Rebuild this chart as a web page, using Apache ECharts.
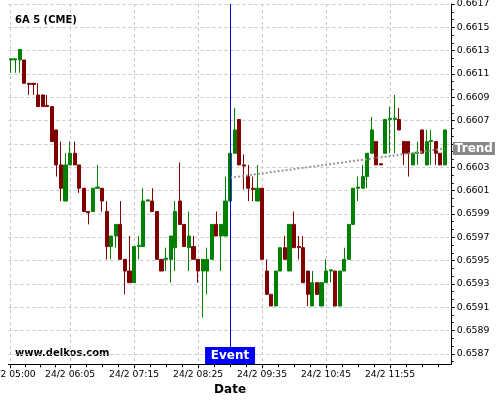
<!DOCTYPE html>
<html>
<head>
<meta charset="utf-8">
<script src="https://cdn.jsdelivr.net/npm/echarts@6/dist/echarts.min.js"></script>
<style>
  html, body { margin: 0; padding: 0; background: #fff; }
  #chart { width: 500px; height: 400px; }
</style>
</head>
<body>
<div id="chart"></div>
<script>
// 5 minute bars, 24/2 05:00 .. 12:55 (+ one empty slot at 13:00)
const categories = []
for (let i = 0; i <= 96; i++) {
  const m = 5 * 60 + 5 * i
  categories.push('24/2 ' + String(Math.floor(m / 60)).padStart(2, '0') + ':' + String(m % 60).padStart(2, '0'))
}

// [open, close, low, high]
const candles = [
  [0.66122, 0.66123, 0.66111, 0.66123],
  [0.66122, 0.66123, 0.66111, 0.66123],
  [0.66122, 0.66131, 0.66111, 0.66131],
  [0.66122, 0.66102, 0.66102, 0.66122],
  [0.66102, 0.66101, 0.66092, 0.66102],
  [0.66102, 0.66101, 0.66092, 0.66102],
  [0.66092, 0.66082, 0.66082, 0.66102],
  [0.66092, 0.66082, 0.66082, 0.66092],
  [0.66083, 0.66082, 0.66082, 0.66092],
  [0.66082, 0.66052, 0.66052, 0.66082],
  [0.66062, 0.66032, 0.66022, 0.66062],
  [0.66032, 0.66012, 0.66001, 0.66052],
  [0.66001, 0.66032, 0.66001, 0.66042],
  [0.66032, 0.66042, 0.66032, 0.66052],
  [0.66042, 0.66032, 0.66032, 0.66052],
  [0.66032, 0.66012, 0.66008, 0.66032],
  [0.66012, 0.65992, 0.65992, 0.66012],
  [0.65992, 0.65991, 0.65981, 0.65992],
  [0.65992, 0.66012, 0.65992, 0.66012],
  [0.66012, 0.66013, 0.66012, 0.66032],
  [0.66012, 0.66001, 0.65992, 0.66012],
  [0.65992, 0.65962, 0.65951, 0.66001],
  [0.65962, 0.65971, 0.65951, 0.65971],
  [0.65971, 0.65981, 0.65961, 0.65981],
  [0.65981, 0.65951, 0.65951, 0.66001],
  [0.65951, 0.65941, 0.65921, 0.65951],
  [0.65941, 0.65931, 0.65931, 0.65971],
  [0.65931, 0.65962, 0.65931, 0.65962],
  [0.65962, 0.65963, 0.65951, 0.65971],
  [0.65962, 0.66001, 0.65962, 0.66012],
  [0.66001, 0.66002, 0.66001, 0.66002],
  [0.66001, 0.65992, 0.65992, 0.66012],
  [0.65992, 0.65951, 0.65951, 0.65992],
  [0.65951, 0.65941, 0.65941, 0.65951],
  [0.65951, 0.65952, 0.65941, 0.65961],
  [0.65951, 0.65971, 0.65931, 0.65971],
  [0.65961, 0.65992, 0.65941, 0.66001],
  [0.66001, 0.65981, 0.65981, 0.66034],
  [0.65981, 0.65962, 0.65962, 0.65981],
  [0.65961, 0.65971, 0.65941, 0.65992],
  [0.65962, 0.65951, 0.65951, 0.65971],
  [0.65951, 0.65941, 0.65931, 0.65951],
  [0.65941, 0.65951, 0.65901, 0.65951],
  [0.65941, 0.65951, 0.65921, 0.65961],
  [0.65951, 0.65981, 0.65951, 0.65981],
  [0.65981, 0.65971, 0.65971, 0.65992],
  [0.65971, 0.65981, 0.65941, 0.65981],
  [0.65971, 0.66001, 0.65971, 0.66022],
  [0.66001, 0.66042, 0.66001, 0.66042],
  [0.66042, 0.66062, 0.66042, 0.66081],
  [0.66071, 0.66032, 0.66032, 0.66071],
  [0.66032, 0.66031, 0.66011, 0.66041],
  [0.66022, 0.66012, 0.66001, 0.66032],
  [0.66012, 0.66011, 0.66001, 0.66022],
  [0.66001, 0.66012, 0.66001, 0.66032],
  [0.66012, 0.65951, 0.65951, 0.66012],
  [0.65941, 0.65921, 0.65921, 0.65951],
  [0.65921, 0.65911, 0.65911, 0.65921],
  [0.65911, 0.65941, 0.65911, 0.65941],
  [0.65941, 0.65961, 0.65941, 0.65961],
  [0.65961, 0.65951, 0.65951, 0.65971],
  [0.65941, 0.65981, 0.65941, 0.65981],
  [0.65981, 0.65961, 0.65961, 0.65992],
  [0.65962, 0.65961, 0.65951, 0.65971],
  [0.65961, 0.65931, 0.65931, 0.65971],
  [0.65941, 0.65921, 0.65911, 0.65941],
  [0.65911, 0.65931, 0.65911, 0.65941],
  [0.65931, 0.65921, 0.65921, 0.65931],
  [0.65911, 0.65931, 0.65911, 0.65931],
  [0.65931, 0.65941, 0.65931, 0.65951],
  [0.65941, 0.65942, 0.65931, 0.65942],
  [0.65941, 0.65911, 0.65911, 0.65941],
  [0.65911, 0.65941, 0.65911, 0.65941],
  [0.65941, 0.65951, 0.65941, 0.65961],
  [0.65951, 0.65981, 0.65951, 0.65981],
  [0.65981, 0.66012, 0.65981, 0.66012],
  [0.66012, 0.66013, 0.66001, 0.66022],
  [0.66012, 0.66022, 0.66012, 0.66032],
  [0.66022, 0.66042, 0.66012, 0.66042],
  [0.66042, 0.66062, 0.66042, 0.66073],
  [0.66052, 0.66032, 0.66032, 0.66052],
  [0.66033, 0.66032, 0.66032, 0.66033],
  [0.66042, 0.66071, 0.66042, 0.66071],
  [0.66071, 0.66072, 0.66042, 0.66082],
  [0.66071, 0.66072, 0.66042, 0.66092],
  [0.66071, 0.66062, 0.66062, 0.66081],
  [0.66052, 0.66042, 0.66032, 0.66052],
  [0.66052, 0.66042, 0.66022, 0.66052],
  [0.66032, 0.66042, 0.66032, 0.66042],
  [0.66042, 0.66043, 0.66032, 0.66052],
  [0.66062, 0.66042, 0.66042, 0.66062],
  [0.66032, 0.66052, 0.66032, 0.66062],
  [0.66052, 0.66053, 0.66032, 0.66062],
  [0.66052, 0.66042, 0.66032, 0.66052],
  [0.66042, 0.66032, 0.66032, 0.66042],
  [0.66032, 0.66062, 0.66032, 0.66062]
]

// trend line: [bar index, price]
const trendPoints = [[48, 0.66021], [95, 0.66046]]
const eventIdx = 48
const eventLabelPrice = 0.658685

// axis ticks
const xLabelIdx = [0, 13, 27, 41, 55, 69, 83]
const yTicks = [0.6587, 0.6589, 0.6591, 0.6593, 0.6595, 0.6597, 0.6599,
  0.6601, 0.6603, 0.6605, 0.6607, 0.6609, 0.6611, 0.6613, 0.6615, 0.6617]
const yLabels = yTicks.filter(v => v !== 0.6605) // hidden under the Trend tag
const yMin = 0.65861
const yMax = 0.6617

// minor ticks: 3 steps between y labels, 4 steps between x labels
const yMinor = []
for (let i = 0; i < yTicks.length - 1; i++) {
  const step = (yTicks[i + 1] - yTicks[i]) / 3
  yMinor.push(yTicks[i] + step, yTicks[i] + 2 * step)
}
yMinor.push(yTicks[0] - 0.0002 / 3)
const xMinor = []
const xStops = xLabelIdx.concat([97])
for (let i = 0; i < xStops.length - 1; i++) {
  const step = (xStops[i + 1] - xStops[i]) / 4
  for (let k = 1; k < 4; k++) {
    const v = xStops[i] + k * step
    if (v < 96.5) xMinor.push(v)
  }
}

const green = '#008000'
const red = '#800000'
const gridColor = '#c8c8c8'

const chart = echarts.init(document.getElementById('chart'))
chart.setOption({
  animation: false,
  textStyle: { fontFamily: 'DejaVu Sans' },
  title: {
    text: '6A 5 (CME)',
    left: 10,
    top: 10,
    textStyle: { fontSize: 10, fontWeight: 'bold', color: '#000', fontFamily: 'DejaVu Sans' }
  },
  graphic: [{
    type: 'text',
    left: 15,
    top: 348,
    style: { text: 'www.delkos.com', font: 'bold 10px "DejaVu Sans"', fill: '#000' }
  }],
  grid: { left: 8.4, right: 48.3, top: 4, bottom: 35.7, outerBoundsMode: 'none', containLabel: false },
  xAxis: [{
    type: 'category',
    data: categories,
    boundaryGap: true,
    position: 'bottom',
    name: 'Date',
    nameLocation: 'middle',
    nameGap: 18,
    nameTextStyle: { fontSize: 12, fontWeight: 'bold', color: '#000', verticalAlign: 'top' },
    axisLine: { show: true, onZero: false, lineStyle: { color: '#000', width: 1 } },
    axisTick: { show: false },
    axisLabel: {
      interval: (i) => xLabelIdx.includes(i),
      fontSize: 9.2,
      color: '#000',
      margin: 6,
      hideOverlap: false
    },
    splitLine: { show: false }
  }, {
    type: 'value',
    min: -0.5,
    max: categories.length - 0.5,
    position: 'bottom',
    axisLine: { show: false, onZero: false },
    axisLabel: { show: false },
    axisTick: { show: true, customValues: xLabelIdx, length: 4, lineStyle: { color: '#000' } },
    splitLine: { show: true, lineStyle: { color: gridColor, type: [3, 3], width: 1 } }
  }, {
    type: 'value',
    min: -0.5,
    max: categories.length - 0.5,
    position: 'bottom',
    axisLine: { show: false, onZero: false },
    axisLabel: { show: false },
    axisTick: { show: true, customValues: xMinor, length: 3, lineStyle: { color: '#000' } },
    splitLine: { show: false }
  }],
  yAxis: [{
    type: 'value',
    position: 'right',
    min: yMin,
    max: yMax,
    axisLine: { show: true, onZero: false, lineStyle: { color: '#000', width: 1 } },
    axisTick: { show: true, customValues: yTicks, length: 3, lineStyle: { color: '#000' } },
    axisLabel: { customValues: yLabels, fontSize: 9.4, color: '#000', margin: 5 },
    splitLine: { show: true, lineStyle: { color: gridColor, type: [3, 3], width: 1 } }
  }, {
    type: 'value',
    position: 'right',
    min: yMin,
    max: yMax,
    axisLine: { show: false, onZero: false },
    axisLabel: { show: false },
    axisTick: { show: true, customValues: yMinor, length: 2, lineStyle: { color: '#000' } },
    splitLine: { show: false }
  }],
  series: [{
    type: 'candlestick',
    xAxisIndex: 0,
    yAxisIndex: 0,
    data: candles,
    barWidth: 3.6,
    itemStyle: {
      color: green,
      color0: red,
      borderColor: green,
      borderColor0: red,
      borderWidth: 1
    },
    markLine: {
      silent: true,
      symbol: 'none',
      label: { show: false },
      lineStyle: { color: '#0000dd', width: 1, type: 'solid' },
      data: [{ xAxis: categories[eventIdx] }]
    },
    markPoint: {
      silent: true,
      symbol: 'rect',
      symbolSize: [50, 17],
      itemStyle: { color: '#0000ff' },
      label: {
        show: true,
        formatter: 'Event',
        color: '#fff',
        fontWeight: 'bold',
        fontSize: 12,
        fontFamily: 'DejaVu Sans'
      },
      data: [{ coord: [categories[eventIdx], eventLabelPrice] }]
    }
  }, {
    type: 'line',
    xAxisIndex: 0,
    yAxisIndex: 0,
    data: trendPoints.map(p => [categories[p[0]], p[1]]),
    symbol: 'none',
    silent: true,
    z: 3,
    lineStyle: { color: '#999', width: 2, type: [2, 2] },
    endLabel: {
      show: true,
      formatter: 'Trend',
      backgroundColor: '#888',
      color: '#fff',
      fontWeight: 'bold',
      fontSize: 12,
      fontFamily: 'DejaVu Sans',
      padding: [1, 2, 0, 2],
      distance: 8
    }
  }]
})
</script>
</body>
</html>
